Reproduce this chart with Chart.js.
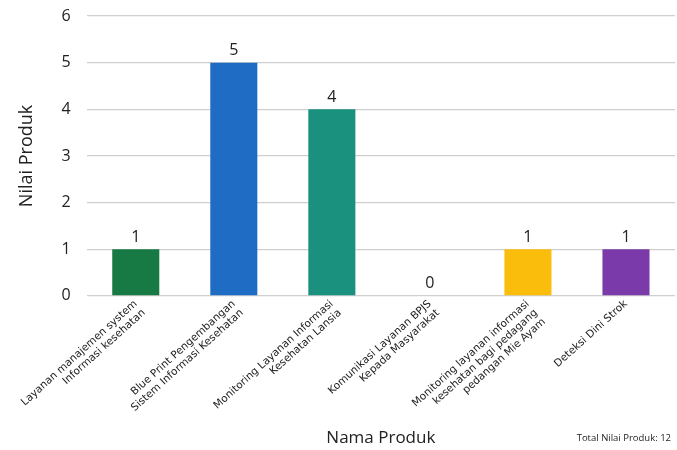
<!DOCTYPE html>
<html>
<head>
<meta charset="utf-8">
<script src="https://cdn.jsdelivr.net/npm/chart.js@4.4.0/dist/chart.umd.min.js"></script>
<style>
html,body{margin:0;padding:0;background:#fff;}
#wrap{width:677px;height:450px;position:relative;}
</style>
</head>
<body>
<div id="wrap"><canvas id="c"></canvas></div>
<script>
const categories = [
  ["Layanan manajemen system", "Informasi kesehatan"],
  ["Blue Print Pengembangan", "Sistem Informasi Kesehatan"],
  ["Monitoring Layanan Informasi", "Kesehatan Lansia"],
  ["Komunikasi Layanan BPJS", "Kepada Masyarakat"],
  ["Monitoring layanan informasi", "kesehatan bagi pedagang", "pedangan Mie Ayam"],
  ["Deteksi Dini Strok"]
];
const values = [1, 5, 4, 0, 1, 1];
const barColors = ["#177a44", "#1f6cc4", "#19917e", "#888888", "#fbbd0b", "#7b3aa9"];
const yTicks = [0, 1, 2, 3, 4, 5, 6];
const totalText = "Total Nilai Produk: 12";
const FONT = "Open Sans";
const TICKFONT = "DejaVu Sans";

const valueLabels = {
  id: 'valueLabels',
  afterDatasetsDraw(chart) {
    const ctx = chart.ctx;
    const meta = chart.getDatasetMeta(0);
    ctx.save();
    ctx.font = "500 16px " + FONT;
    ctx.fillStyle = "#222";
    ctx.textAlign = "center";
    ctx.textBaseline = "bottom";
    meta.data.forEach((el, i) => {
      ctx.fillText(String(values[i]), el.x, el.y - 4);
    });
    ctx.restore();
  }
};
const totalLabel = {
  id: 'totalLabel',
  afterDraw(chart) {
    const ctx = chart.ctx;
    ctx.save();
    ctx.font = "9.5px " + FONT;
    ctx.fillStyle = "#222";
    ctx.textAlign = "right";
    ctx.textBaseline = "middle";
    ctx.fillText(totalText, chart.width - 6, 438);
    ctx.restore();
  }
};

new Chart(document.getElementById('c'), {
  type: 'bar',
  data: {
    labels: categories,
    datasets: [{
      data: values,
      backgroundColor: barColors,
      barPercentage: 0.48,
      categoryPercentage: 1.0
    }]
  },
  options: {
    responsive: true,
    maintainAspectRatio: false,
    animation: false,
    layout: { padding: { top: 16, right: 2, left: 16, bottom: 2 } },
    plugins: { legend: { display: false }, tooltip: { enabled: false } },
    scales: {
      x: {
        afterFit(scale) { scale.height -= 6; },
        grid: { display: false, drawTicks: false },
        border: { display: false },
        ticks: {
          font: { family: TICKFONT, size: 10.5, lineHeight: 1.15 },
          color: "#222",
          maxRotation: 42, minRotation: 42,
          autoSkip: false,
          padding: 2
        },
        title: {
          display: true, text: "Nama Produk",
          font: { family: FONT, size: 17 }, color: "#222",
          padding: { top: 2, bottom: 0 }
        }
      },
      y: {
        min: 0, max: 6,
        afterFit(scale) { scale.paddingTop = 0; },
        afterBuildTicks(axis) { axis.ticks = yTicks.map(v => ({ value: v })); },
        grid: { color: "#cfcfcf", drawTicks: false, lineWidth: 1.2 },
        border: { display: false },
        ticks: {
          font: { family: FONT, size: 16 }, color: "#222",
          padding: 16
        },
        title: {
          display: true, text: "Nilai Produk",
          font: { family: FONT, size: 18 }, color: "#222",
          padding: { top: 0, bottom: 8 }
        }
      }
    }
  },
  plugins: [valueLabels, totalLabel]
});
</script>
</body>
</html>
